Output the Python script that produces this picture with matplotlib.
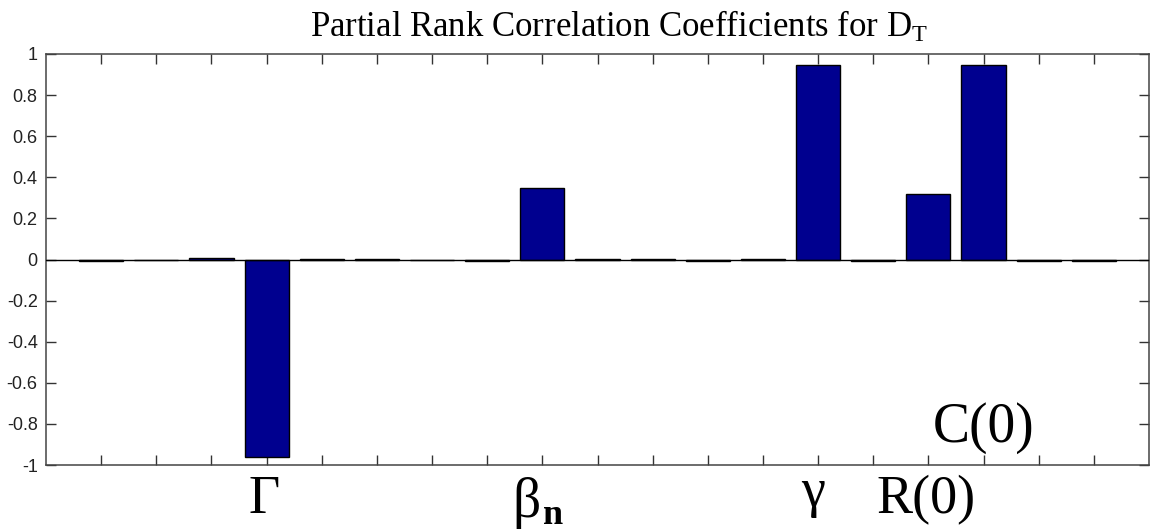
import matplotlib
matplotlib.use("Agg")
import matplotlib.pyplot as plt
import numpy as np

plt.rcParams["mathtext.fontset"] = "custom"
plt.rcParams["mathtext.rm"] = "Liberation Serif"
plt.rcParams["mathtext.it"] = "Liberation Serif:italic"
plt.rcParams["mathtext.bf"] = "Liberation Serif:bold"

# PRCC values for each of the 19 model parameters
positions = list(range(1, 20))
prcc = [-0.006, 0.0, 0.005, -0.96, 0.004, 0.004, 0.0, -0.006, 0.35, 0.004,
        0.004, -0.006, 0.004, 0.945, -0.005, 0.32, 0.945, -0.005, -0.005]

yticks = [-1, -0.8, -0.6, -0.4, -0.2, 0, 0.2, 0.4, 0.6, 0.8, 1]
ytick_labels = ["-1", "-0.8", "-0.6", "-0.4", "-0.2", "0",
                "0.2", "0.4", "0.6", "0.8", "1"]

# parameter names shown under their bars
name_pos = [4, 14, 16]
name_text = ["Γ", "γ", "R(0)"]
beta_pos = 9
c0_pos = 17

fig = plt.figure(figsize=(11.5, 5.31), dpi=100)
ax = fig.add_axes([46 / 1150, 66 / 531, 1103 / 1150, 411 / 531])

ax.bar(positions, prcc, width=0.8, color="#00008F", edgecolor="black",
       linewidth=1.0, zorder=2)
ax.axhline(0, color="black", linewidth=1.0, zorder=3)

ax.set_xlim(0, 20)
ax.set_ylim(-1, 1)
ax.set_xticks(positions)
ax.set_xticklabels([])
ax.set_yticks(yticks)
ax.set_yticklabels(ytick_labels, family="Liberation Sans", fontsize=13,
                   color="#222222")
ax.tick_params(direction="in", length=7, width=1.0, color="#333333",
               top=True, right=True, pad=6)
for s in ax.spines.values():
    s.set_color("#444444")
    s.set_linewidth(1.1)

serif = "Liberation Serif"
for p, t in zip(name_pos, name_text):
    yb = -1.235 if t != "γ" else -1.2
    ax.text(p - (0.1 if t == "γ" else 0.05), yb, t, ha="center",
            va="baseline", family=serif, fontsize=39, clip_on=False)

# beta with a bold subscript n
ax.text(beta_pos - 0.28, -1.255, "β", ha="center", va="baseline",
        family=serif, fontsize=40, clip_on=False)
ax.text(beta_pos + 0.2, -1.285, "n", ha="center", va="baseline",
        family=serif, fontsize=26, fontweight="bold", clip_on=False)

ax.text(c0_pos, -0.888, "C(0)", ha="center", va="baseline", family=serif,
        fontsize=40)

fig.text(619 / 1150, (531 - 37) / 531,
         r"Partial Rank Correlation Coefficients for D$_\mathrm{T}$",
         ha="center", va="baseline", family=serif, fontsize=25)

fig.savefig("out.png", dpi=100)
